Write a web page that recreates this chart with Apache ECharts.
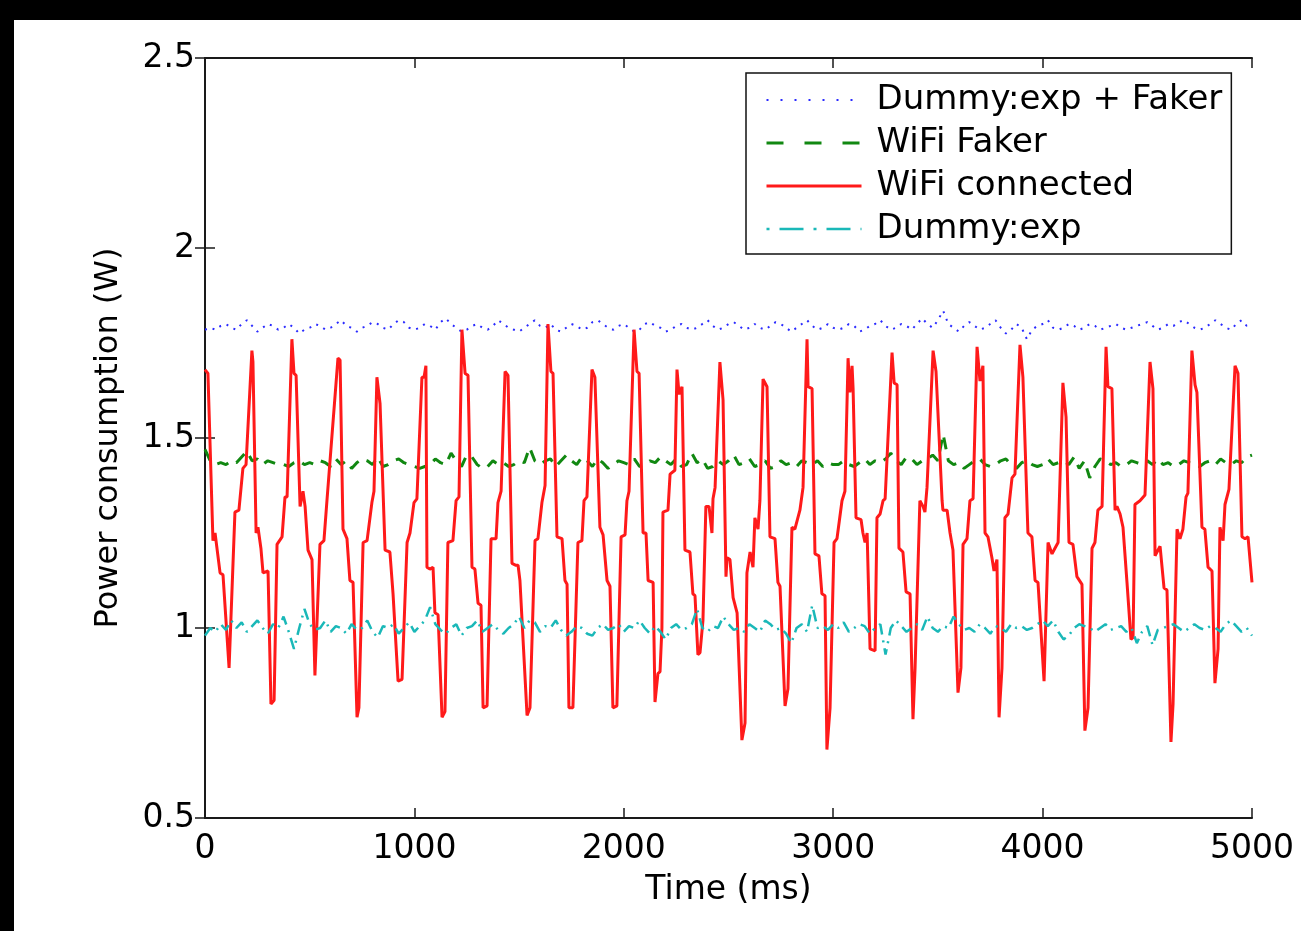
<!DOCTYPE html>
<html>
<head>
<meta charset="utf-8">
<script src="https://cdn.jsdelivr.net/npm/echarts@6/dist/echarts.min.js"></script>
<style>
  html, body { margin: 0; padding: 0; background: #fff; }
  #chart { width: 1301px; height: 931px; }
</style>
</head>
<body>
<div id="chart"></div>
<script>
// ---------------- DATA ----------------
const seriesNames = ['Dummy:exp + Faker', 'WiFi Faker', 'WiFi connected', 'Dummy:exp'];
const xTicks = [0, 1000, 2000, 3000, 4000, 5000];
const yTicks = [0.5, 1, 1.5, 2, 2.5];

// noisy traces sampled every 25 ms (0 .. 5000 ms)
const sampleStepMs = 25;

const dummyFakerW = [
  1.785,1.79,1.785,1.795,1.80,1.79,1.785,1.80,1.81,1.795,1.78,1.79,1.80,1.795,1.785,1.79,1.80,1.79,1.775,1.785,1.79,
  1.80,1.795,1.785,1.79,1.80,1.81,1.795,1.79,1.78,1.79,1.795,1.805,1.80,1.79,1.785,1.80,1.81,1.805,1.79,1.785,
  1.79,1.80,1.795,1.785,1.805,1.815,1.80,1.79,1.78,1.785,1.795,1.80,1.79,1.785,1.795,1.81,1.80,1.79,1.785,1.78,
  1.79,1.80,1.81,1.795,1.79,1.80,1.785,1.78,1.79,1.80,1.795,1.785,1.79,1.805,1.81,1.80,1.79,1.785,1.795,1.80,
  1.79,1.78,1.785,1.80,1.805,1.795,1.79,1.78,1.785,1.795,1.80,1.79,1.785,1.79,1.80,1.81,1.795,1.785,1.79,1.80,
  1.805,1.795,1.785,1.79,1.80,1.79,1.785,1.795,1.805,1.80,1.79,1.78,1.79,1.80,1.81,1.795,1.785,1.79,1.80,1.79,
  1.785,1.79,1.80,1.795,1.78,1.785,1.795,1.80,1.81,1.795,1.785,1.79,1.80,1.795,1.785,1.80,1.815,1.80,1.79,1.81,
  1.835,1.80,1.79,1.78,1.795,1.805,1.795,1.785,1.79,1.80,1.81,1.79,1.775,1.785,1.80,1.79,1.76,1.785,1.795,1.80,
  1.81,1.79,1.785,1.79,1.80,1.795,1.785,1.79,1.80,1.795,1.785,1.79,1.795,1.80,1.79,1.785,1.79,1.795,1.80,1.805,
  1.795,1.785,1.79,1.80,1.795,1.805,1.81,1.80,1.79,1.785,1.79,1.80,1.81,1.80,1.79,1.785,1.80,1.81,1.795,1.80
];

const wifiFakerW = [
  1.47,1.44,1.43,1.435,1.43,1.44,1.435,1.45,1.465,1.44,1.445,1.43,1.44,1.435,1.43,1.43,1.425,1.435,1.44,1.43,1.435,
  1.43,1.44,1.435,1.425,1.445,1.43,1.44,1.42,1.435,1.445,1.44,1.43,1.45,1.425,1.43,1.44,1.445,1.435,1.43,1.425,
  1.42,1.425,1.43,1.445,1.435,1.43,1.46,1.44,1.425,1.455,1.45,1.43,1.42,1.425,1.44,1.43,1.435,1.425,1.43,1.44,
  1.435,1.475,1.44,1.43,1.44,1.445,1.425,1.44,1.455,1.44,1.43,1.45,1.44,1.425,1.445,1.435,1.42,1.43,1.44,1.435,
  1.43,1.445,1.425,1.43,1.44,1.435,1.45,1.44,1.43,1.445,1.425,1.43,1.46,1.435,1.445,1.42,1.425,1.44,1.43,1.44,
  1.455,1.43,1.435,1.445,1.425,1.43,1.44,1.42,1.425,1.44,1.43,1.435,1.425,1.44,1.435,1.43,1.44,1.425,1.435,1.43,
  1.43,1.44,1.43,1.425,1.435,1.445,1.43,1.44,1.435,1.445,1.46,1.44,1.43,1.45,1.445,1.43,1.44,1.445,1.455,1.44,
  1.51,1.44,1.43,1.435,1.42,1.43,1.44,1.445,1.43,1.425,1.43,1.44,1.445,1.43,1.42,1.435,1.44,1.43,1.425,1.43,
  1.445,1.43,1.435,1.44,1.43,1.45,1.42,1.44,1.395,1.425,1.445,1.44,1.43,1.435,1.425,1.43,1.44,1.435,1.43,1.44,
  1.43,1.445,1.43,1.435,1.425,1.43,1.44,1.435,1.43,1.425,1.435,1.44,1.43,1.445,1.435,1.43,1.44,1.435,1.45,1.455
];

const dummyExpW = [
  0.98,1.00,0.99,1.01,0.995,1.02,1.0,1.015,0.99,1.005,1.02,1.0,0.985,1.01,1.0,1.03,0.99,0.945,1.0,1.05,1.01,
  0.995,1.0,1.02,0.99,1.005,1.0,0.985,1.01,0.995,1.0,1.02,0.99,0.975,1.005,1.0,1.01,0.985,1.0,1.015,0.99,
  1.005,1.02,1.055,1.01,0.995,0.985,1.0,1.01,0.98,1.0,1.005,1.02,0.99,1.0,1.01,0.995,0.985,1.0,1.01,1.03,
  1.0,1.02,1.015,0.99,1.005,1.0,1.02,0.995,0.98,0.99,1.005,1.0,0.985,0.98,1.0,1.01,0.995,1.0,1.01,0.99,
  1.005,1.0,1.02,1.0,0.985,1.005,0.99,0.97,1.0,1.01,0.995,1.0,1.01,1.05,1.0,0.99,1.005,1.0,1.03,1.01,
  0.995,1.0,0.99,1.01,1.0,0.99,1.02,1.01,0.995,1.0,0.985,0.96,1.0,1.01,0.99,1.06,1.0,1.005,0.995,1.01,
  1.0,1.015,0.99,1.0,1.01,1.005,0.985,1.0,1.01,0.93,1.0,1.02,1.005,0.99,1.0,1.01,0.995,1.03,1.0,0.99,
  1.005,1.0,1.03,1.01,0.995,1.0,0.99,1.01,1.0,0.985,1.005,1.0,0.99,1.01,1.0,1.005,0.995,1.0,1.01,1.02,
  1.005,1.02,0.99,0.97,0.98,1.0,1.01,1.005,1.0,0.99,1.0,1.01,0.995,1.0,1.005,0.99,1.0,0.96,0.99,1.005,
  0.955,0.995,1.0,1.005,1.01,1.0,0.99,1.0,1.01,1.0,0.995,1.005,1.0,0.99,1.01,1.02,1.005,0.99,1.0,0.98
];

// WiFi connected trace: vertices (time in ms, power in W)
const wifiConnTimeMs = [
  0,14,38,48,72,86,115,143,162,181,196,224,229,244,253,267,277,301,315,330,344,368,382,392,415,425,435,454,468,478,
  492,511,525,549,568,583,592,635,645,659,678,692,707,726,735,755,774,797,807,821,836,845,860,883,898,907,922,941,965,979,
  998,1012,1036,1046,1055,1060,1074,1089,1098,1113,1132,1146,1160,1184,1199,1213,1227,1242,1256,1275,1289,1304,1318,1328,1347,1366,1390,1399,1414,1433,
  1447,1466,1485,1495,1504,1538,1552,1576,1590,1609,1624,1638,1652,1662,1681,1705,1719,1729,1738,1757,1781,1800,1810,1824,1848,1862,1886,1901,1920,1934,
  1948,1967,1987,2006,2015,2025,2049,2063,2073,2092,2106,2116,2140,2149,2163,2173,2182,2187,2211,2221,2244,2254,2264,2278,2292,2316,2330,2340,2354,2364,
  2378,2392,2407,2421,2426,2436,2459,2474,2488,2493,2507,2522,2541,2564,2579,2588,2603,2617,2626,2641,2650,2665,2684,2698,2722,2736,2746,2770,2784,2803,
  2817,2841,2856,2875,2880,2899,2913,2932,2946,2961,2970,2985,3004,3018,3042,3056,3071,3080,3090,3095,3109,3133,3142,3152,3162,3176,3200,3209,3224,3238,
  3248,3281,3291,3305,3314,3333,3348,3367,3381,3391,3400,3414,3429,3438,3448,3477,3491,3500,3520,3524,3544,3558,3572,3596,3610,3620,3639,3653,3668,3687,
  3701,3715,3725,3739,3758,3768,3782,3792,3806,3820,3835,3854,3868,3892,3906,3930,3949,3964,3978,4007,4026,4045,4059,4074,4097,4112,4126,4145,4164,4188,
  4202,4217,4236,4250,4264,4284,4303,4312,4331,4346,4355,4370,4384,4403,4422,4432,4441,4465,4489,4513,4527,4537,4561,4580,4594,4613,4623,4642,4656,4670,
  4685,4694,4713,4728,4737,4761,4775,4790,4809,4823,4838,4847,4862,4871,4890,4919,4933,4952,4967,4981,5000
];
const wifiConnW = [
  1.68,1.67,1.23,1.25,1.145,1.14,0.895,1.305,1.31,1.42,1.43,1.73,1.70,1.25,1.265,1.21,1.145,1.15,0.80,0.81,1.22,1.24,1.345,1.345,1.76,1.67,1.665,1.32,1.36,1.32,
  1.205,1.18,0.875,1.22,1.23,1.34,1.34,1.71,1.705,1.26,1.235,1.125,1.12,0.765,0.79,1.225,1.23,1.33,1.36,1.66,1.59,1.595,1.205,1.20,1.09,1.09,0.86,0.865,1.225,1.25,
  1.33,1.34,1.66,1.66,1.69,1.16,1.155,1.16,1.04,1.035,0.765,0.78,1.225,1.23,1.335,1.345,1.785,1.67,1.665,1.16,1.155,1.065,1.06,0.79,0.795,1.235,1.235,1.33,1.36,1.675,
  1.665,1.17,1.165,1.165,1.125,0.77,0.79,1.23,1.235,1.33,1.375,1.80,1.675,1.67,1.24,1.235,1.125,1.115,0.79,0.79,1.225,1.23,1.335,1.345,1.68,1.66,1.265,1.245,1.125,1.11,
  0.79,0.795,1.24,1.245,1.335,1.36,1.785,1.675,1.67,1.25,1.25,1.125,1.12,0.805,0.88,0.885,1.0,1.305,1.31,1.405,1.415,1.68,1.615,1.635,1.205,1.20,1.09,1.085,0.93,0.935,
  1.02,1.32,1.32,1.25,1.34,1.37,1.70,1.60,1.135,1.185,1.18,1.08,1.04,0.705,0.75,1.145,1.20,1.16,1.29,1.26,1.335,1.655,1.635,1.24,1.235,1.12,1.11,0.795,0.84,1.265,
  1.26,1.31,1.37,1.76,1.635,1.63,1.195,1.19,1.09,1.085,0.68,0.79,1.225,1.235,1.335,1.36,1.71,1.62,1.69,1.63,1.29,1.285,1.25,1.225,1.25,0.945,0.94,1.29,1.30,1.335,
  1.34,1.725,1.645,1.64,1.21,1.20,1.095,1.09,0.76,0.895,0.90,1.335,1.32,1.305,1.37,1.73,1.675,1.67,1.335,1.31,1.31,1.25,1.205,0.83,0.895,1.22,1.235,1.335,1.34,1.74,
  1.65,1.69,1.25,1.24,1.185,1.15,1.18,0.765,0.895,1.29,1.30,1.395,1.405,1.745,1.66,1.25,1.24,1.125,1.12,0.86,1.225,1.195,1.21,1.225,1.645,1.555,1.225,1.22,1.135,1.115,
  0.73,0.79,1.21,1.225,1.31,1.32,1.74,1.635,1.63,1.31,1.32,1.30,1.265,1.12,0.97,0.975,1.325,1.335,1.35,1.70,1.63,1.19,1.215,1.105,1.10,0.70,0.80,1.26,1.235,1.26,
  1.345,1.355,1.73,1.64,1.62,1.265,1.26,1.16,1.15,0.855,0.945,1.265,1.23,1.325,1.365,1.69,1.67,1.24,1.235,1.24,1.12
];

// ---------------- BUILD ----------------
function sampled(values) {
  return values.map((v, i) => [i * sampleStepMs, v]);
}
const wifiConnData = wifiConnTimeMs.map((t, i) => [t, wifiConnW[i]]);

const FONT = 'DejaVu Sans';
const axisLineStyle = { color: '#1a1a1a', width: 2 };
const tickStyle = { color: '#1a1a1a', width: 1.5 };

const colors = ['#2a2aff', '#118811', '#ff1a1a', '#1ab8b8'];
const legendDash = [[2, 12], [17, 21], 'solid', [3, 10, 24, 10]];
const legendWidth = [2, 3, 3, 2.5];

const chart = echarts.init(document.getElementById('chart'), null, { renderer: 'canvas' });

const option = {
  backgroundColor: '#ffffff',
  animation: false,
  graphic: [
    { type: 'rect', left: 0, top: 0, shape: { width: 1301, height: 20 }, style: { fill: '#000' }, z: 0 },
    { type: 'rect', left: 0, top: 0, shape: { width: 14, height: 931 }, style: { fill: '#000' }, z: 0 }
  ],
  grid: { left: 205, right: 49, top: 58, bottom: 113, containLabel: false },
  legend: {
    show: true,
    data: seriesNames.map((n, i) => ({
      name: n,
      lineStyle: { color: colors[i], width: legendWidth[i], type: legendDash[i] }
    })),
    orient: 'vertical',
    left: 746,
    top: 73,
    backgroundColor: '#ffffff',
    borderColor: '#111',
    borderWidth: 1.5,
    padding: [9, 9, 7, 19],
    itemGap: 7,
    itemWidth: 95,
    itemHeight: 14,
    selectedMode: false,
    itemStyle: { opacity: 0 },
    textStyle: { fontFamily: FONT, fontSize: 34, color: '#000', lineHeight: 36, padding: [0, 0, 0, 10] }
  },
  xAxis: [
    {
      type: 'value', position: 'bottom', min: 0, max: 5000, interval: 1000,
      name: 'Time (ms)', nameLocation: 'middle', nameGap: 56,
      nameTextStyle: { fontFamily: FONT, fontSize: 33, color: '#000' },
      axisLine: { show: true, lineStyle: axisLineStyle },
      axisTick: { show: true, inside: true, length: 10, lineStyle: tickStyle },
      axisLabel: { show: true, fontFamily: FONT, fontSize: 33, color: '#000', margin: 15,
        formatter: v => xTicks.includes(v) ? String(v) : '' },
      splitLine: { show: false }
    },
    {
      type: 'value', position: 'top', min: 0, max: 5000, interval: 1000,
      axisLine: { show: true, lineStyle: axisLineStyle },
      axisTick: { show: true, inside: true, length: 10, lineStyle: tickStyle },
      axisLabel: { show: false },
      splitLine: { show: false }
    }
  ],
  yAxis: [
    {
      type: 'value', position: 'left', min: 0.5, max: 2.5, interval: 0.5,
      name: 'Power consumption (W)', nameLocation: 'middle', nameGap: 80, nameRotate: 90,
      nameTextStyle: { fontFamily: FONT, fontSize: 32, color: '#000' },
      axisLine: { show: true, lineStyle: axisLineStyle },
      axisTick: { show: true, inside: true, length: 10, lineStyle: tickStyle },
      axisLabel: { show: true, fontFamily: FONT, fontSize: 33, color: '#000', margin: 10,
        formatter: v => yTicks.includes(v) ? String(v) : '' },
      splitLine: { show: false }
    },
    {
      type: 'value', position: 'right', min: 0.5, max: 2.5, interval: 0.5,
      axisLine: { show: true, lineStyle: axisLineStyle },
      axisTick: { show: true, inside: true, length: 10, lineStyle: tickStyle },
      axisLabel: { show: false },
      splitLine: { show: false }
    }
  ],
  series: [
    {
      name: seriesNames[0], type: 'line', xAxisIndex: 0, yAxisIndex: 0,
      data: sampled(dummyFakerW), symbol: 'none', smooth: false,
      itemStyle: { color: colors[0] },
      lineStyle: { color: colors[0], width: 2, type: [2, 6] }
    },
    {
      name: seriesNames[1], type: 'line', xAxisIndex: 0, yAxisIndex: 0,
      data: sampled(wifiFakerW), symbol: 'none', smooth: false,
      itemStyle: { color: colors[1] },
      lineStyle: { color: colors[1], width: 3, type: [12, 9] }
    },
    {
      name: seriesNames[2], type: 'line', xAxisIndex: 0, yAxisIndex: 0,
      data: wifiConnData, symbol: 'none', smooth: false,
      itemStyle: { color: colors[2] },
      lineStyle: { color: colors[2], width: 3, type: 'solid' }
    },
    {
      name: seriesNames[3], type: 'line', xAxisIndex: 0, yAxisIndex: 0,
      data: sampled(dummyExpW), symbol: 'none', smooth: false,
      itemStyle: { color: colors[3] },
      lineStyle: { color: colors[3], width: 2.5, type: [12, 6, 2, 6] }
    }
  ]
};

chart.setOption(option);
</script>
</body>
</html>
